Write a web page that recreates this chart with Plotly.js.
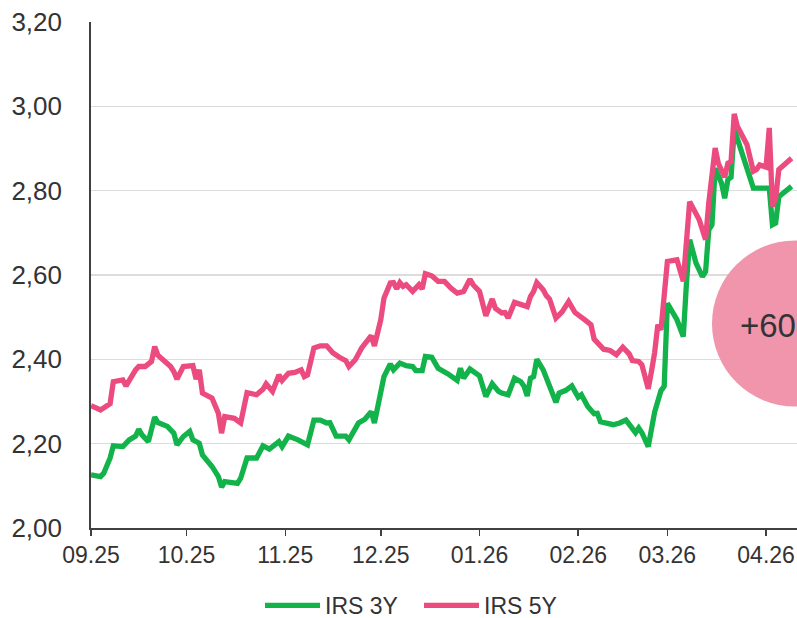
<!DOCTYPE html>
<html>
<head>
<meta charset="utf-8">
<script src="https://cdn.plot.ly/plotly-3.0.1.min.js"></script>
<style>
  html, body { margin: 0; padding: 0; background: #ffffff; }
  #chart { width: 797px; height: 618px; }
</style>
</head>
<body>
<div id="chart"></div>
<script>
// ---- Data ----
var dates3Y = [
  '2025-09-01','2025-09-04','2025-09-05','2025-09-07','2025-09-08','2025-09-11','2025-09-13','2025-09-15','2025-09-16','2025-09-17',
  '2025-09-19','2025-09-20','2025-09-21','2025-09-22','2025-09-25','2025-09-27','2025-09-28','2025-09-30','2025-10-02','2025-10-03',
  '2025-10-05','2025-10-06','2025-10-09','2025-10-11','2025-10-12','2025-10-13','2025-10-17','2025-10-18','2025-10-20','2025-10-23',
  '2025-10-24','2025-10-25','2025-10-27','2025-10-30','2025-10-31','2025-11-02','2025-11-05','2025-11-07','2025-11-08','2025-11-10',
  '2025-11-12','2025-11-14','2025-11-15','2025-11-17','2025-11-20','2025-11-21','2025-11-24','2025-11-26','2025-11-28','2025-11-29',
  '2025-12-01','2025-12-02','2025-12-04','2025-12-05','2025-12-07','2025-12-09','2025-12-11','2025-12-12','2025-12-14','2025-12-15',
  '2025-12-17','2025-12-19','2025-12-22','2025-12-25','2025-12-26','2025-12-27','2025-12-29','2025-12-30','2026-01-01','2026-01-03',
  '2026-01-05','2026-01-07','2026-01-08','2026-01-10','2026-01-12','2026-01-14','2026-01-15','2026-01-16','2026-01-17','2026-01-18',
  '2026-01-19','2026-01-21','2026-01-23','2026-01-25','2026-01-26','2026-01-28','2026-01-30','2026-02-01','2026-02-02','2026-02-04',
  '2026-02-06','2026-02-07','2026-02-08','2026-02-10','2026-02-12','2026-02-14','2026-02-16','2026-02-19','2026-02-20','2026-02-21',
  '2026-02-23','2026-02-25','2026-02-27','2026-02-28','2026-03-01','2026-03-04','2026-03-06','2026-03-07','2026-03-08','2026-03-10',
  '2026-03-12','2026-03-13','2026-03-14','2026-03-15','2026-03-16','2026-03-18','2026-03-19','2026-03-20','2026-03-21','2026-03-22',
  '2026-03-24','2026-03-26','2026-03-28','2026-03-30','2026-04-01','2026-04-02','2026-04-03','2026-04-04','2026-04-05','2026-04-09'
];
var irs3Y = [
  2.126,2.122,2.130,2.166,2.195,2.193,2.209,2.218,2.234,2.221,
  2.205,2.229,2.263,2.250,2.241,2.225,2.197,2.217,2.229,2.209,
  2.201,2.173,2.146,2.122,2.097,2.110,2.106,2.118,2.166,2.166,
  2.181,2.195,2.187,2.205,2.193,2.218,2.209,2.203,2.197,2.256,
  2.256,2.249,2.250,2.218,2.218,2.209,2.249,2.258,2.276,2.249,
  2.320,2.359,2.389,2.375,2.391,2.385,2.383,2.373,2.373,2.407,
  2.405,2.379,2.366,2.350,2.379,2.355,2.377,2.371,2.361,2.312,
  2.342,2.324,2.320,2.316,2.355,2.347,2.336,2.313,2.355,2.359,
  2.400,2.375,2.332,2.298,2.320,2.326,2.337,2.310,2.316,2.288,
  2.271,2.272,2.252,2.247,2.245,2.249,2.256,2.226,2.237,2.226,
  2.193,2.275,2.326,2.336,2.533,2.494,2.454,2.581,2.684,2.628,
  2.596,2.608,2.707,2.719,2.853,2.818,2.782,2.826,2.832,2.946,
  2.901,2.850,2.806,2.806,2.806,2.806,2.719,2.723,2.786,2.810
];
var dates5Y = [
  '2025-09-01','2025-09-04','2025-09-07','2025-09-08','2025-09-11','2025-09-12','2025-09-15','2025-09-16','2025-09-18','2025-09-20',
  '2025-09-21','2025-09-22','2025-09-26','2025-09-27','2025-09-28','2025-09-30','2025-10-03','2025-10-04','2025-10-05','2025-10-06',
  '2025-10-09','2025-10-11','2025-10-12','2025-10-13','2025-10-16','2025-10-18','2025-10-20','2025-10-23','2025-10-25','2025-10-26',
  '2025-10-28','2025-10-30','2025-10-31','2025-11-02','2025-11-04','2025-11-06','2025-11-07','2025-11-08','2025-11-10','2025-11-12',
  '2025-11-14','2025-11-16','2025-11-18','2025-11-20','2025-11-21','2025-11-23','2025-11-25','2025-11-28','2025-11-29','2025-12-01',
  '2025-12-02','2025-12-04','2025-12-05','2025-12-06','2025-12-07','2025-12-08','2025-12-09','2025-12-11','2025-12-13','2025-12-14',
  '2025-12-15','2025-12-17','2025-12-19','2025-12-21','2025-12-23','2025-12-25','2025-12-27','2025-12-29','2025-12-30','2026-01-01',
  '2026-01-03','2026-01-05','2026-01-06','2026-01-08','2026-01-09','2026-01-10','2026-01-12','2026-01-14','2026-01-16','2026-01-17',
  '2026-01-18','2026-01-19','2026-01-21','2026-01-22','2026-01-23','2026-01-25','2026-01-27','2026-01-29','2026-01-31','2026-02-03',
  '2026-02-05','2026-02-06','2026-02-08','2026-02-09','2026-02-11','2026-02-13','2026-02-15','2026-02-17','2026-02-18','2026-02-20',
  '2026-02-21','2026-02-23','2026-02-24','2026-02-25','2026-02-26','2026-02-27','2026-03-01','2026-03-04','2026-03-06','2026-03-07',
  '2026-03-08','2026-03-11','2026-03-13','2026-03-14','2026-03-16','2026-03-17','2026-03-19','2026-03-20','2026-03-21','2026-03-22',
  '2026-03-23','2026-03-26','2026-03-28','2026-03-29','2026-03-30','2026-04-01','2026-04-02','2026-04-03','2026-04-04','2026-04-05',
  '2026-04-09'
];
var irs5Y = [
  2.290,2.280,2.295,2.347,2.351,2.337,2.375,2.383,2.383,2.395,
  2.430,2.410,2.383,2.371,2.353,2.383,2.385,2.353,2.375,2.320,
  2.308,2.272,2.225,2.264,2.260,2.249,2.321,2.316,2.329,2.342,
  2.324,2.363,2.350,2.367,2.369,2.375,2.359,2.363,2.427,2.432,
  2.432,2.415,2.405,2.397,2.383,2.399,2.427,2.456,2.432,2.494,
  2.545,2.581,2.582,2.567,2.582,2.573,2.577,2.561,2.577,2.567,
  2.603,2.598,2.585,2.585,2.569,2.557,2.561,2.590,2.577,2.561,
  2.503,2.543,2.521,2.510,2.511,2.498,2.535,2.529,2.525,2.549,
  2.561,2.582,2.565,2.551,2.543,2.498,2.513,2.537,2.511,2.494,
  2.482,2.448,2.432,2.424,2.421,2.411,2.429,2.413,2.397,2.395,
  2.387,2.330,2.371,2.416,2.482,2.470,2.632,2.636,2.585,2.691,
  2.774,2.731,2.684,2.771,2.901,2.865,2.832,2.865,2.869,2.982,
  2.952,2.909,2.846,2.850,2.861,2.856,2.949,2.763,2.782,2.850,
  2.877
];
var seriesNames = ['IRS 3Y', 'IRS 5Y'];
var badgeText = '+60';

// ---- Styles ----
var FONT = 'Liberation Sans, Arial, Helvetica, sans-serif';
var GREEN = '#12b34a';
var PINK = '#eb4b7e';
var TEXT = '#333333';
var AXIS = '#404040';

var traces = [
  { x: dates3Y, y: irs3Y, name: seriesNames[0], type: 'scatter', mode: 'lines',
    line: { color: GREEN, width: 5.3 }, hoverinfo: 'skip' },
  { x: dates5Y, y: irs5Y, name: seriesNames[1], type: 'scatter', mode: 'lines',
    line: { color: PINK, width: 5.3 }, hoverinfo: 'skip' }
];

var layout = {
  width: 797, height: 618,
  margin: { l: 91, r: 0, t: 22, b: 90, autoexpand: false },
  paper_bgcolor: '#ffffff', plot_bgcolor: '#ffffff',
  separators: ',.',
  font: { family: FONT, color: TEXT },
  showlegend: true,
  legend: {
    orientation: 'h', x: 0.2394, xanchor: 'left', y: -0.153, yanchor: 'middle',
    font: { size: 23, color: TEXT, family: FONT }, itemwidth: 55,
    entrywidth: 89, entrywidthmode: 'pixels',
    bgcolor: 'rgba(0,0,0,0)'
  },
  xaxis: {
    type: 'date',
    range: ['2025-09-01', '2026-04-10 17:00'],
    tick0: '2025-09-01', dtick: 'M1', tickformat: '%m.%y',
    ticks: 'outside', ticklen: 6, tickwidth: 1.5, tickcolor: AXIS,
    showline: true, linecolor: AXIS, linewidth: 1.8,
    showgrid: false, zeroline: false,
    tickfont: { size: 23, color: TEXT, family: FONT },
    ticklabelstandoff: 0,
    fixedrange: true
  },
  yaxis: {
    range: [2.0, 3.2], dtick: 0.2, tick0: 2.0, tickformat: '.2f',
    ticks: '', showline: true, linecolor: AXIS, linewidth: 1.8,
    showgrid: true, gridcolor: '#dcdcdc', gridwidth: 1.2,
    zeroline: false,
    tickfont: { size: 26, color: TEXT, family: FONT },
    ticklabelstandoff: 22,
    fixedrange: true
  },
  shapes: [
    { type: 'circle', xref: 'paper', yref: 'y',
      x0: 0.8796, x1: 1.1147, y0: 2.288, y1: 2.682,
      fillcolor: '#f195ad', line: { width: 0 }, layer: 'above' }
  ],
  annotations: [
    { text: badgeText, xref: 'paper', yref: 'y', x: 0.9164, y: 2.48,
      xanchor: 'left', yanchor: 'middle', showarrow: false,
      font: { size: 33, color: TEXT, family: FONT } }
  ]
};

Plotly.newPlot('chart', traces, layout, { staticPlot: true, displayModeBar: false });
</script>
</body>
</html>
